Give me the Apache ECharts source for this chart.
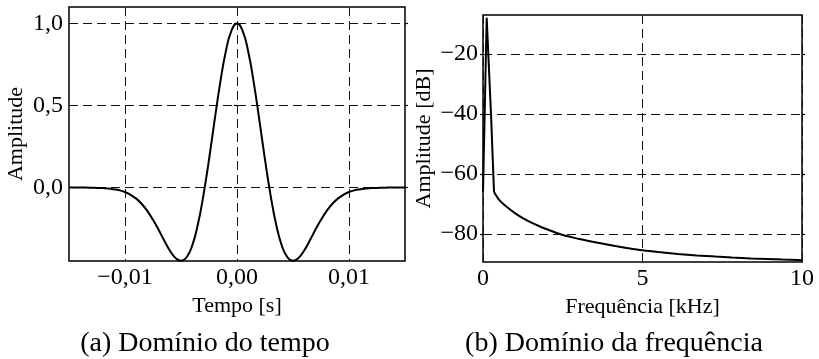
<!DOCTYPE html>
<html>
<head>
<meta charset="utf-8">
<script src="https://cdn.jsdelivr.net/npm/echarts@6.0.0/dist/echarts.min.js"></script>
<style>
  html, body { margin: 0; padding: 0; background: #fff; }
  #chart { width: 819px; height: 359px; }
</style>
</head>
<body>
<div id="chart"></div>
<script>
// (a) time domain wavelet
const timeS = [
  -0.015, -0.0145, -0.014, -0.0135, -0.013, -0.0125, -0.012, -0.0115, -0.011, -0.0105,
  -0.01, -0.0095, -0.009, -0.0085, -0.008, -0.0075, -0.007, -0.0065, -0.006, -0.0055,
  -0.005, -0.0045, -0.004, -0.0035, -0.003, -0.0025, -0.002, -0.0015, -0.001, -0.0005,
  0,
  0.0005, 0.001, 0.0015, 0.002, 0.0025, 0.003, 0.0035, 0.004, 0.0045, 0.005,
  0.0055, 0.006, 0.0065, 0.007, 0.0075, 0.008, 0.0085, 0.009, 0.0095, 0.01,
  0.0105, 0.011, 0.0115, 0.012, 0.0125, 0.013, 0.0135, 0.014, 0.0145, 0.015
];
const amplitude = [
  0.000, 0.000, 0.000, 0.000, -0.001, -0.002, -0.003, -0.005, -0.010, -0.016,
  -0.027, -0.044, -0.067, -0.100, -0.143, -0.196, -0.257, -0.322, -0.383, -0.428,
  -0.446, -0.424, -0.353, -0.226, -0.047, 0.171, 0.409, 0.638, 0.829, 0.955,
  1.000,
  0.955, 0.829, 0.638, 0.409, 0.171, -0.047, -0.226, -0.353, -0.424, -0.446,
  -0.428, -0.383, -0.322, -0.257, -0.196, -0.143, -0.100, -0.067, -0.044, -0.027,
  -0.016, -0.010, -0.005, -0.003, -0.002, -0.001, 0.000, 0.000, 0.000, 0.000
];
const timeTicks = [-0.01, 0, 0.01];
const timeTickLabels = ['−0,01', '0,00', '0,01'];
const ampTicks = [0, 0.5, 1];
const ampTickLabels = ['0,0', '0,5', '1,0'];

// (b) frequency domain spectrum: sharp peak, then a slow tail
const peakFreqKHz = [0, 0.116, 0.166, 0.251, 0.323, 0.345];
const peakDb = [-66, -7.9, -20, -40, -60, -66];
const tailFreqKHz = [
  0.345, 0.5, 0.75, 1.0, 1.25, 1.5, 1.75, 2.0, 2.25, 2.5,
  2.8, 3.1, 3.6, 4.1, 4.5, 5.0, 5.5, 6.1, 6.7, 7.3,
  7.8, 8.4, 8.9, 9.4, 10
];
const tailDb = [
  -66, -68.5, -71.0, -73.0, -74.7, -76.1, -77.3, -78.4, -79.4, -80.3,
  -81.1, -81.8, -82.9, -83.9, -84.6, -85.4, -86.0, -86.6, -87.1, -87.5,
  -87.8, -88.1, -88.3, -88.5, -88.7
];
const freqTicks = [0, 5, 10];
const freqTickLabels = ['0', '5', '10'];
const dbTicks = [-80, -60, -40, -20];
const dbTickLabels = ['−80', '−60', '−40', '−20'];

const captions = ['(a) Domínio do tempo', '(b) Domínio da frequência'];

const FONT = "'Palatino Linotype', 'Book Antiqua', Palatino, 'Liberation Serif', serif";
const dash = { color: '#111', width: 1, type: [9, 5] };
const tickStyle = { show: true, inside: false, length: 3, lineStyle: { color: '#000', width: 1.2 } };

function labelFrom(ticks, labels) {
  return (v) => {
    const i = ticks.findIndex(t => Math.abs(t - v) < 1e-9);
    return i >= 0 ? labels[i] : '';
  };
}

function valueAxis(extra) {
  return Object.assign({
    type: 'value',
    axisLine: { show: false },
    splitLine: { show: true, lineStyle: dash },
    nameTextStyle: { color: '#000', fontFamily: FONT, fontSize: 22 },
    nameLocation: 'middle',
  }, extra);
}

function tickLabels(ticks, labels, margin) {
  return { color: '#000', fontFamily: FONT, fontSize: 24, margin: margin,
    customValues: ticks, formatter: labelFrom(ticks, labels) };
}

const chart = echarts.init(document.getElementById('chart'), null, { renderer: 'canvas' });

const option = {
  backgroundColor: '#fff',
  animation: false,
  grid: [
    { left: 69, top: 7, width: 336, height: 254, show: true, borderColor: '#000', borderWidth: 1.5, backgroundColor: 'transparent' },
    { left: 483, top: 15, width: 319, height: 247, show: true, borderColor: '#000', borderWidth: 1.5, backgroundColor: 'transparent' }
  ],
  xAxis: [
    valueAxis({
      gridIndex: 0, min: -0.015, max: 0.015,
      name: 'Tempo [s]', nameGap: 30,
      axisTick: { show: false, customValues: timeTicks },
      axisLabel: tickLabels(timeTicks, timeTickLabels, 5)
    }),
    valueAxis({
      gridIndex: 1, min: 0, max: 10,
      name: 'Frequência [kHz]', nameGap: 30,
      axisTick: { show: false, customValues: freqTicks },
      axisLabel: tickLabels(freqTicks, freqTickLabels, 5)
    })
  ],
  yAxis: [
    valueAxis({
      gridIndex: 0, min: -0.447, max: 1.1,
      name: 'Amplitude', nameGap: 42,
      axisTick: Object.assign({ customValues: ampTicks }, tickStyle),
      axisLabel: tickLabels(ampTicks, ampTickLabels, 6)
    }),
    valueAxis({
      gridIndex: 0, min: -0.447, max: 1.1, position: 'right',
      splitLine: { show: false },
      axisTick: Object.assign({ customValues: ampTicks }, tickStyle),
      axisLabel: { show: false }
    }),
    valueAxis({
      gridIndex: 1, min: -89.3, max: -7,
      name: 'Amplitude [dB]', nameGap: 48,
      axisTick: Object.assign({ customValues: dbTicks }, tickStyle),
      axisLabel: tickLabels(dbTicks, dbTickLabels, 5)
    }),
    valueAxis({
      gridIndex: 1, min: -89.3, max: -7, position: 'right',
      splitLine: { show: false },
      axisTick: Object.assign({ customValues: dbTicks }, tickStyle),
      axisLabel: { show: false }
    })
  ],
  series: [
    {
      type: 'line', xAxisIndex: 0, yAxisIndex: 0,
      data: timeS.map((t, i) => [t, amplitude[i]]),
      smooth: true, showSymbol: false, clip: true,
      lineStyle: { color: '#000', width: 2 }
    },
    {
      type: 'line', xAxisIndex: 1, yAxisIndex: 2,
      data: peakFreqKHz.map((f, i) => [f, peakDb[i]]),
      smooth: false, showSymbol: false, clip: true,
      lineStyle: { color: '#000', width: 2 }
    },
    {
      type: 'line', xAxisIndex: 1, yAxisIndex: 2,
      data: tailFreqKHz.map((f, i) => [f, tailDb[i]]),
      smooth: 0.3, showSymbol: false, clip: true,
      lineStyle: { color: '#000', width: 2 }
    }
  ],
  graphic: [
    { type: 'text', x: 205, y: 344, style: { text: captions[0], fill: '#000', font: '28px ' + FONT, textAlign: 'center', textVerticalAlign: 'middle' } },
    { type: 'text', x: 614, y: 344, style: { text: captions[1], fill: '#000', font: '28px ' + FONT, textAlign: 'center', textVerticalAlign: 'middle' } }
  ]
};

chart.setOption(option);
</script>
</body>
</html>
